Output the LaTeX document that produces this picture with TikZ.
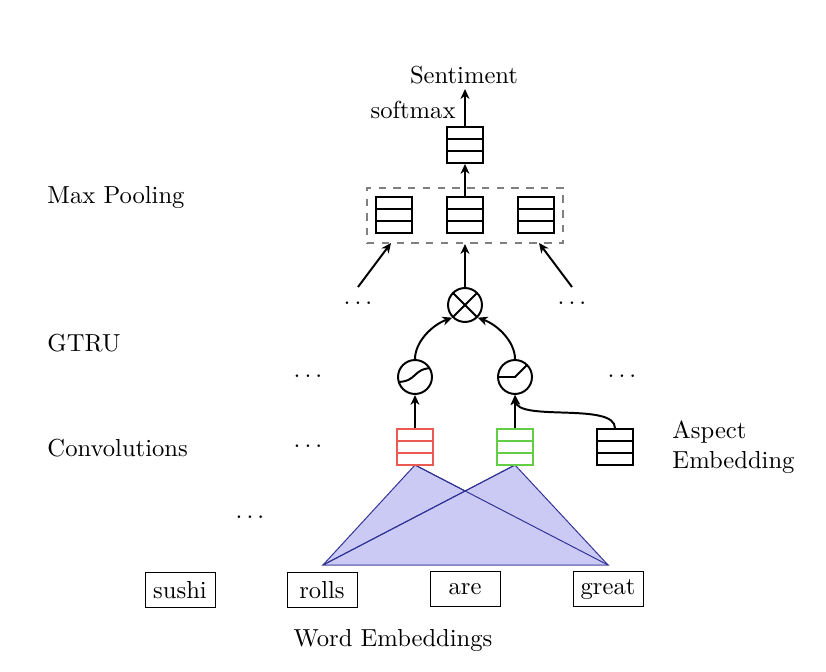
\documentclass[tikz,border=0pt]{standalone}
\usetikzlibrary{calc,arrows.meta}
\definecolor{convred}{RGB}{235,90,80}
\definecolor{convgreen}{RGB}{100,205,70}
\definecolor{trifill}{RGB}{202,202,245}
\definecolor{triedge}{RGB}{50,50,150}
\begin{document}
\begin{tikzpicture}[x=0.4065pt,y=-0.4065pt,
  vecbox/.style={draw=#1, thick, fill=white, inner sep=0pt, minimum width=14.6pt, minimum height=14.6pt,
    path picture={
      \draw[#1,thick] ($(path picture bounding box.north west)!1/3!(path picture bounding box.south west)$) -- ($(path picture bounding box.north east)!1/3!(path picture bounding box.south east)$);
      \draw[#1,thick] ($(path picture bounding box.north west)!2/3!(path picture bounding box.south west)$) -- ($(path picture bounding box.north east)!2/3!(path picture bounding box.south east)$);
    }},
  vecbox/.default=black,
  op/.style={draw, thick, circle, inner sep=0pt, minimum size=13.8pt},
  word/.style={draw, inner sep=2pt, minimum width=1cm, minimum height=0.5cm},
  arr/.style={-{Stealth[length=4pt,width=3.6pt,inset=1.2pt]}, thick},
  lbl/.style={anchor=west, inner sep=0pt},
  dotsn/.style={inner sep=0pt}
]
\useasboundingbox (0,0) rectangle (826,672);

% top
\node[inner sep=0pt] (sent) at (464,75) {Sentiment};
\node[anchor=east, inner sep=0pt] (softmax) at (456,110) {softmax};
\node[vecbox] (top) at (465,145) {};
\draw[arr] (top.north) -- (465,89);

% pooling
\node[vecbox] (p1) at (394,215) {};
\node[vecbox] (p2) at (465,215) {};
\node[vecbox] (p3) at (536,215) {};
\node[draw=gray, thick, dashed, minimum width=196*0.4065pt, minimum height=55*0.4065pt, inner sep=0pt] (pool) at (465,215.5) {};
\draw[arr] (p2.north) -- (top.south);
\node[lbl] (lmax) at (47,198) {Max Pooling};

% gating
\node[op, path picture={
  \draw[thick] (path picture bounding box.north west) -- (path picture bounding box.south east);
  \draw[thick] (path picture bounding box.north east) -- (path picture bounding box.south west);}] (mul) at (465,305) {};
\draw[arr] (mul.north) -- (mul |- pool.south);
\coordinate (l1) at (358,287);
\coordinate (l2) at (391,243);
\coordinate (r1) at (572,287);
\coordinate (r2) at (539,243);
\draw[arr] (l1) -- (l2);
\draw[arr] (r1) -- (r2);
\node[dotsn] (d1) at (358,303) {$\dots$};
\node[dotsn] (d2) at (572,303) {$\dots$};

\node[op, path picture={
  \draw[thick] ($(path picture bounding box.center)+(-18,5)$) .. controls ($(path picture bounding box.center)+(3,5)$) and ($(path picture bounding box.center)+(-3,-9)$) .. ($(path picture bounding box.center)+(18,-9)$);}] (sig) at (415,377) {};
\node[op, path picture={
  \draw[thick] ($(path picture bounding box.center)+(-18,0)$) -- (path picture bounding box.center) -- ($(path picture bounding box.center)+(14,-14)$);}] (relu) at (515,377) {};
\draw[arr] (sig.north) .. controls (415,342) and (432,325) .. (mul.south west);
\draw[arr] (relu.north) .. controls (515,342) and (498,325) .. (mul.south east);
\node[dotsn] (d3) at (308,376) {$\dots$};
\node[dotsn] (d4) at (622,376) {$\dots$};
\node[lbl] (lgtru) at (47,343) {GTRU};

% triangles
\coordinate (b1) at (323,565);
\coordinate (b2) at (608,565);
\coordinate (a1) at (415,465);
\coordinate (a2) at (515,465);
\filldraw[fill=trifill, draw=triedge] (a1) -- (b1) -- (b2) -- cycle;
\filldraw[fill=trifill, draw=triedge] (a2) -- (b1) -- (b2) -- cycle;
\draw[triedge] (a1) -- (b2);
\draw[triedge] (a2) -- (b1);

% convolutions
\node[vecbox=convred] (c1) at (415,447) {};
\node[vecbox=convgreen] (c2) at (515,447) {};
\node[vecbox] (asp) at (615,447) {};
\draw[arr] (c1.north) -- (sig.south);
\draw[arr] (c2.north) -- (relu.south);
\draw[arr] (asp.north) .. controls (615,402) and (517,422) .. (relu.south);
\node[dotsn] (d5) at (308,446) {$\dots$};
\node[dotsn] (d6) at (250,517) {$\dots$};
\node[lbl] (lconv) at (47,448) {Convolutions};
\node[lbl, align=left] (lasp) at (672,447) {Aspect\\Embedding};

% words
\node[word] (w1) at (180,590) {sushi};
\node[word] (w2) at (322,590) {rolls};
\node[word] (w3) at (465,589) {are};
\node[word] (w4) at (608,589) {great};
\node[inner sep=0pt] (lwe) at (393,640) {Word Embeddings};
\end{tikzpicture}
\end{document}
